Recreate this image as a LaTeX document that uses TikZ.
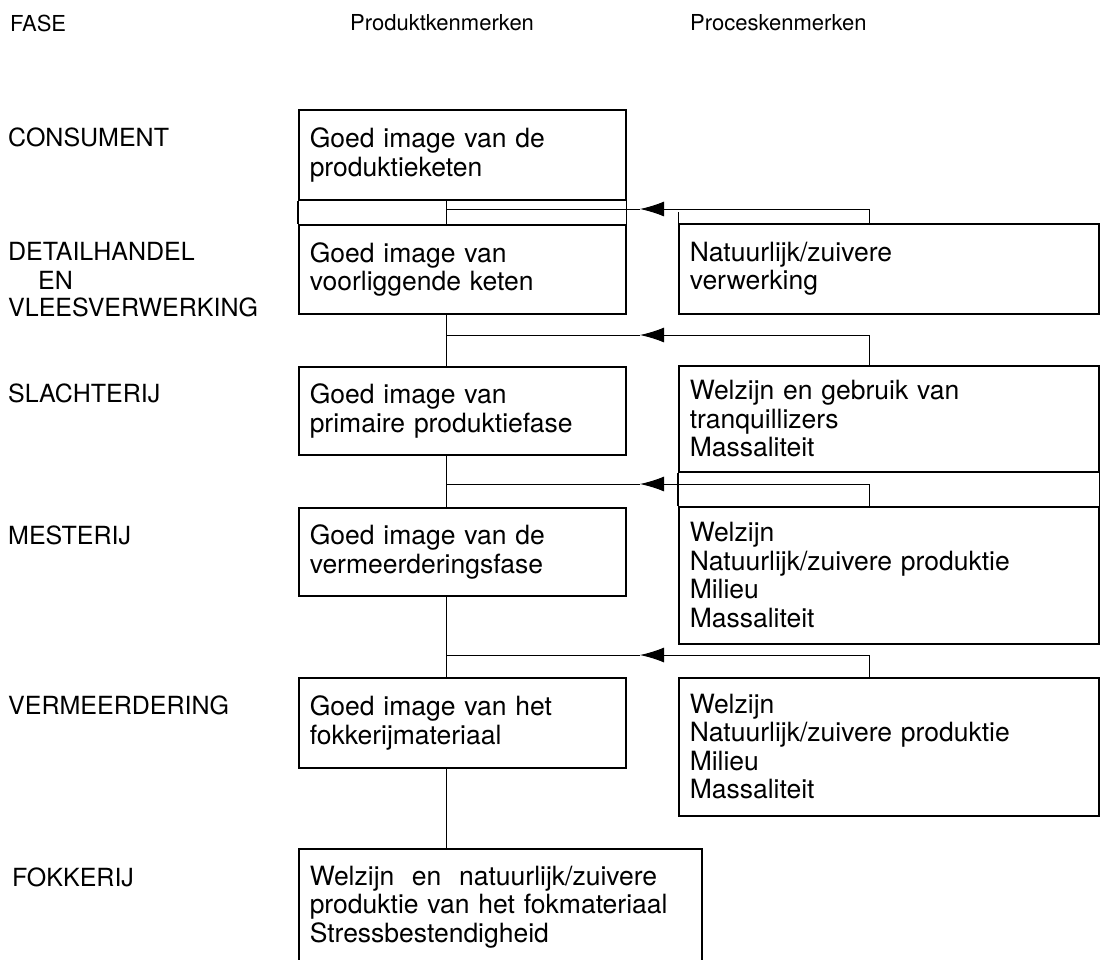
\documentclass[tikz,border=0pt]{standalone}
\usepackage{fontspec}
\setmainfont{TeX Gyre Heros}
\usetikzlibrary{arrows.meta}
\newcommand{\headfont}{\fontsize{22pt}{26pt}\selectfont}
\newcommand{\fasefont}{\fontsize{25pt}{28pt}\selectfont}
\newcommand{\kenfont}{\fontsize{26.5pt}{28.5pt}\selectfont}

\begin{document}
\begin{tikzpicture}[
  x=1pt,y=-1pt,
  every node/.style={inner sep=0pt},
  hd/.style={anchor=west,font=\headfont},
  fase/.style={anchor=west,font=\fasefont,align=left},
  pk/.style={draw,line width=1.5pt,anchor=north west,align=left,font=\kenfont,inner xsep=11pt,text width=305pt},
  rk/.style={pk,text width=398pt},
  ln/.style={line width=1pt},
  bx/.style={line width=1.5pt},
  ar/.style={ln,-{Latex[length=24pt,width=15pt]}}
]
\useasboundingbox (0,0) rectangle (1108,959);

% kopjes
\node[hd] (hfase) at (10,23) {FASE};
\node[hd] (hprod) at (350,23) {Produktkenmerken};
\node[hd] (hproc) at (690,23) {Proceskenmerken};

% fasen
\node[fase] (fcons) at (8,137) {CONSUMENT};
\node[fase] (fdet) at (8,251) {DETAILHANDEL};
\node[fase] (fen) at (38,280) {EN};
\node[fase] (fvlees) at (8,307) {VLEESVERWERKING};
\node[fase] (fslacht) at (8,393) {SLACHTERIJ};
\node[fase] (fmest) at (8,535) {MESTERIJ};
\node[fase] (fverm) at (8,705) {VERMEERDERING};
\node[fase] (ffok) at (12,877) {FOKKERIJ};

% produktkenmerken
\node[pk,minimum height=90pt] (A1) at (298,109) {Goed image van de\\produktieketen};
\node[pk,minimum height=89pt] (A2) at (298,224) {Goed image van\\voorliggende\ keten};
\node[pk,minimum height=88pt] (A3) at (298,366) {Goed image van\\primaire\ produktiefase};
\node[pk,minimum height=88pt] (A4) at (298,507) {Goed image van de\\vermeerderingsfase};
\node[pk,minimum height=90pt] (A5) at (298,677) {Goed image van het\\fokkerijmateriaal};
\node[pk,text width=381pt,minimum height=116pt] (A6) at (298,848) {Welzijn\ \ en\ \ natuurlijk/zuivere\\produktie van het fokmateriaal\\Stressbestendigheid};

% proceskenmerken
\node[rk,minimum height=90pt] (B1) at (678,223) {Natuurlijk/zuivere\\verwerking};
\node[rk,minimum height=106pt] (B2) at (678,365) {Welzijn en gebruik van\\tranquillizers\\Massaliteit};
\node[rk,minimum height=137pt] (B3) at (678,506) {Welzijn\\Natuurlijk/zuivere\ produktie\\Milieu\\Massaliteit};
\node[rk,minimum height=138pt] (B4) at (678,677) {Welzijn\\Natuurlijk/zuivere\ produktie\\Milieu\\Massaliteit};

% tussenstroken
\draw[bx] (A1.south west) -- (A2.north west) (A1.south east) -- (A2.north east);
\draw[bx] (B2.south west) -- (B3.north west) (B2.south east) -- (B3.north east);
\draw[ln] (B1.north west) -- ++(0,-11);

% verbindingen
\coordinate (sp) at (446,0);
\coordinate (rs) at (869,0);
\foreach \a/\b in {A1/A2,A2/A3,A3/A4,A4/A5,A5/A6}
  \draw[ln] (\a.south -| sp) -- (\b.north -| sp);
\foreach \b/\y [count=\i] in {B1/209,B2/335,B3/484,B4/655}{
  \coordinate (j\i) at (446,\y);
  \coordinate (t\i) at (640,\y);
  \draw[ar] (\b.north -| rs) |- (t\i);
  \draw[ln] (t\i) -- (j\i);
}
\end{tikzpicture}
\end{document}
